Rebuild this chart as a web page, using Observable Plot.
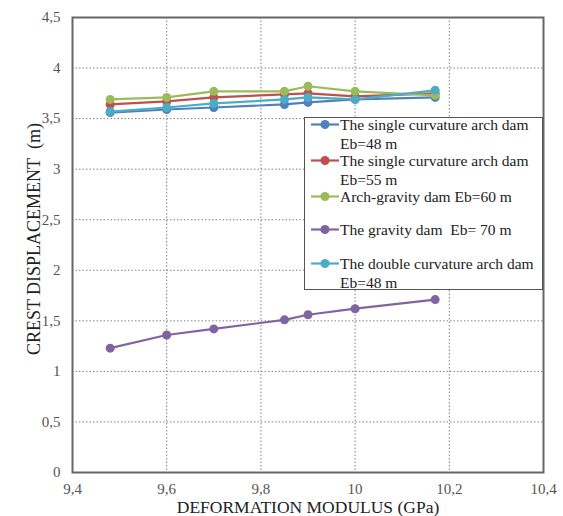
<!DOCTYPE html>
<html><head><meta charset="utf-8">
<script src="https://cdn.jsdelivr.net/npm/d3@7"></script>
<script src="https://cdn.jsdelivr.net/npm/@observablehq/plot@0.6"></script>
<style>
body{margin:0;background:#fff}
#wrap{position:relative;width:563px;height:516px;font-family:"Liberation Serif","Times New Roman",serif}
#wrap svg text{font-family:"Liberation Serif","Times New Roman",serif}
#legend{position:absolute;left:304px;top:117px;width:237px;height:171px;border:1.5px solid #555;background:#fff}
.item{position:absolute;left:0;width:237px;font-size:15.5px;line-height:19px;color:#222;white-space:pre}
.item svg{position:absolute;left:5px;top:0}
.item .t{position:absolute;left:35px;top:0}
</style>
</head><body><div id="wrap"></div>
<script>
const modulus = [9.48, 9.6, 9.7, 9.85, 9.9, 10.0, 10.17];
const seriesNames = [
  "The single curvature arch dam Eb=48 m",
  "The single curvature arch dam Eb=55 m",
  "Arch-gravity dam Eb=60 m",
  "The gravity dam  Eb= 70 m",
  "The double curvature arch dam Eb=48 m"
];
const legendLines = [
  ["The single curvature arch dam", "Eb=48 m"],
  ["The single curvature arch dam", "Eb=55 m"],
  ["Arch-gravity dam Eb=60 m"],
  ["The gravity dam  Eb= 70 m"],
  ["The double curvature arch dam", "Eb=48 m"]
];
const singleEb48 = [3.56, 3.59, 3.61, 3.64, 3.66, 3.69, 3.71];
const singleEb55 = [3.64, 3.67, 3.71, 3.74, 3.75, 3.72, 3.75];
const archGravity = [3.69, 3.71, 3.77, 3.77, 3.82, 3.77, 3.73];
const gravity = [1.23, 1.36, 1.42, 1.51, 1.56, 1.62, 1.71];
const doubleEb48 = [3.57, 3.61, 3.65, 3.69, 3.71, 3.69, 3.78];
const seriesValues = [singleEb48, singleEb55, archGravity, gravity, doubleEb48];
const colors = ["#4F81BD", "#C0504D", "#9BBB59", "#8064A2", "#4BACC6"];
const xTicks = [9.4, 9.6, 9.8, 10, 10.2, 10.4];
const yTicks = [0, 0.5, 1, 1.5, 2, 2.5, 3, 3.5, 4, 4.5];
const xLabel = "DEFORMATION MODULUS (GPa)";
const yLabel = "CREST DISPLACEMENT\u00a0 (m)";

const serif = "'Liberation Serif','Times New Roman',serif";
const fmt = d => String(d).replace(".", ",");
const tables = seriesValues.map((vals, i) => vals.map((v, j) => ({x: modulus[j], y: v, series: seriesNames[i]})));

const seriesMarks = tables.flatMap((rows, i) => [
  Plot.line(rows, {x: "x", y: "y", stroke: colors[i], strokeWidth: 2.2}),
  Plot.dot(rows, {x: "x", y: "y", fill: colors[i], r: 4.5})
]);

const tickStyle = {tickSize: 0, tickFormat: fmt, label: null, fontSize: 15, fontFamily: serif, fill: "#555", stroke: "#555", strokeWidth: 0.6};

const chart = Plot.plot({
  width: 563, height: 516,
  marginLeft: 72, marginRight: 20, marginTop: 17, marginBottom: 44,
  style: {fontFamily: serif, background: "#fff", overflow: "visible"},
  x: {domain: [9.4, 10.4]},
  y: {domain: [0, 4.5]},
  marks: [
    Plot.gridX(xTicks.slice(1, -1), {stroke: "#808080", strokeOpacity: 1, strokeDasharray: "1.5,2"}),
    Plot.gridY(yTicks.slice(1, -1), {stroke: "#808080", strokeOpacity: 1, strokeDasharray: "1.5,2"}),
    Plot.axisX(xTicks, {...tickStyle, tickPadding: 11}),
    Plot.axisY(yTicks, {...tickStyle, tickPadding: 12}),
    Plot.frame({stroke: "#666", strokeWidth: 2}),
    ...seriesMarks,
    Plot.text([xLabel], {frameAnchor: "bottom", textAnchor: "middle", lineAnchor: "middle", dy: 35, fontSize: 17.5, fontFamily: serif, fill: "#222"}),
    Plot.text([yLabel], {frameAnchor: "left", textAnchor: "middle", lineAnchor: "middle", rotate: -90, dx: -38, dy: -6, fontSize: 18, fontFamily: serif, fill: "#222"})
  ]
});
const wrap = document.getElementById("wrap");
wrap.appendChild(chart);

// legend
const legendTops = [124, 160, 196, 229, 263];
const legend = document.createElement("div");
legend.id = "legend";
legendLines.forEach((lines, i) => {
  const item = document.createElement("div");
  item.className = "item";
  item.style.top = (legendTops[i] - 117 - 10) + "px";
  item.innerHTML = `<svg width="30" height="19"><line x1="1" x2="29" y1="9.5" y2="9.5" stroke="${colors[i]}" stroke-width="2.2"/><circle cx="15" cy="9.5" r="4.5" fill="${colors[i]}"/></svg><div class="t">${lines.join("\n")}</div>`;
  legend.appendChild(item);
});
wrap.appendChild(legend);
</script>
</body></html>
